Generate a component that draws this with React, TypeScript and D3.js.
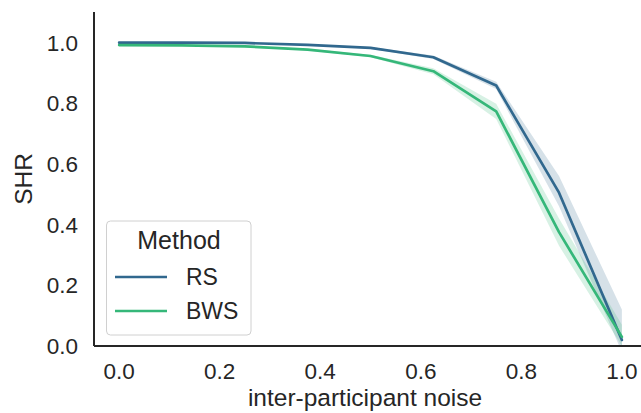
import React from "react";
import * as d3 from "d3";

const noise = [0, 0.125, 0.25, 0.375, 0.5, 0.625, 0.75, 0.875, 1.0];
const rsMean = [0.999, 0.999, 0.998, 0.992, 0.982, 0.951, 0.858, 0.505, 0.02];
const rsLow = [0.998, 0.998, 0.997, 0.990, 0.979, 0.945, 0.846, 0.46, -0.02];
const rsHigh = [1.0, 1.0, 0.999, 0.994, 0.985, 0.957, 0.87, 0.56, 0.12];
const bwsMean = [0.991, 0.99, 0.987, 0.976, 0.955, 0.905, 0.773, 0.375, 0.03];
const bwsLow = [0.99, 0.989, 0.985, 0.973, 0.951, 0.895, 0.748, 0.33, 0.0];
const bwsHigh = [0.993, 0.992, 0.989, 0.979, 0.959, 0.915, 0.798, 0.42, 0.07];
const xTicks = [0, 0.2, 0.4, 0.6, 0.8, 1.0];
const yTicks = [0, 0.2, 0.4, 0.6, 0.8, 1.0];
const methods = ["RS", "BWS"];
const colors = ["#31688e", "#35b779"];

const W = 641;
const H = 413;
const left = 94;
const right = 647;
const top = 12;
const bottom = 346;

export default function App() {
  const x = d3.scaleLinear().domain([-0.05, 1.05]).range([left, right]);
  const y = d3.scaleLinear().domain([0, 1.1]).range([bottom, top]);
  const series = [
    { name: methods[0], mean: rsMean, lo: rsLow, hi: rsHigh, color: colors[0] },
    { name: methods[1], mean: bwsMean, lo: bwsLow, hi: bwsHigh, color: colors[1] },
  ];
  const line = d3
    .line<number>()
    .x((_, i) => x(noise[i]))
    .y((d) => y(d));
  const font = "'Liberation Sans', Arial, sans-serif";
  const ink = "#262626";
  return (
    <svg
      width={W}
      height={H}
      style={{ position: "absolute", left: 0, top: 0, background: "#fff" }}
      fontFamily={font}
    >
      <defs>
        <clipPath id="plot">
          <rect x={left} y={top} width={right - left} height={bottom - top} />
        </clipPath>
      </defs>
      <g clipPath="url(#plot)">
        {series.map((s) => {
          const area = d3
            .area<number>()
            .x((_, i) => x(noise[i]))
            .y0((_, i) => y(s.lo[i]))
            .y1((_, i) => y(s.hi[i]));
          return (
            <path key={s.name + "band"} d={area(s.mean) || ""} fill={s.color} fillOpacity={0.2} stroke="none" />
          );
        })}
        {series.map((s) => (
          <path
            key={s.name}
            d={line(s.mean) || ""}
            fill="none"
            stroke={s.color}
            strokeWidth={2.7}
            strokeLinejoin="round"
            strokeLinecap="round"
          />
        ))}
      </g>
      {/* spines */}
      <line x1={left} x2={left} y1={top} y2={bottom} stroke={ink} strokeWidth={2} />
      <line x1={left} x2={W} y1={bottom} y2={bottom} stroke={ink} strokeWidth={2} />
      {/* ticks */}
      {xTicks.map((t) => (
        <text key={"x" + t} x={x(t)} y={379} fontSize={22.5} fill={ink} textAnchor="middle">
          {d3.format(".1f")(t)}
        </text>
      ))}
      {yTicks.map((t) => (
        <text key={"y" + t} x={78} y={y(t) + 8.2} fontSize={22.5} fill={ink} textAnchor="end">
          {d3.format(".1f")(t)}
        </text>
      ))}
      <text x={365} y={406} fontSize={24.5} fill={ink} textAnchor="middle">
        inter-participant noise
      </text>
      <text
        transform={`translate(32, ${(top + bottom) / 2}) rotate(-90)`}
        fontSize={24.5}
        fill={ink}
        textAnchor="middle"
      >
        SHR
      </text>
      {/* legend */}
      <rect
        x={106.5}
        y={221}
        width={144.5}
        height={114}
        rx={4}
        fill="#fff"
        fillOpacity={0.8}
        stroke="#d0d0d0"
        strokeWidth={1}
      />
      <text x={179} y={249} fontSize={25} fill={ink} textAnchor="middle">
        Method
      </text>
      {series.map((s, i) => (
        <g key={s.name + "leg"}>
          <line x1={115} x2={167} y1={277 + i * 34} y2={277 + i * 34} stroke={s.color} strokeWidth={2.7} />
          <text x={186} y={285 + i * 34} fontSize={23} fill={ink}>
            {s.name}
          </text>
        </g>
      ))}
    </svg>
  );
}
